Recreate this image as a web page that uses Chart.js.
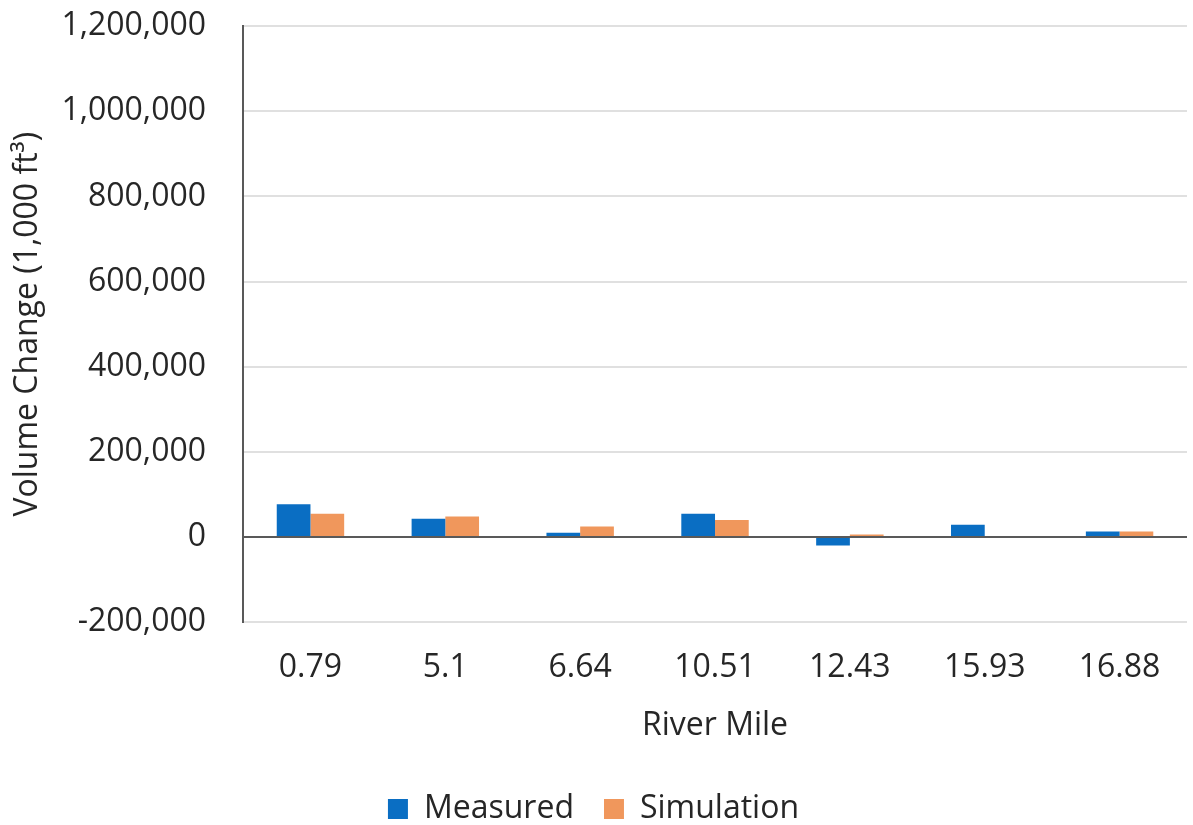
<!DOCTYPE html>
<html>
<head>
<meta charset="utf-8">
<script src="https://cdn.jsdelivr.net/npm/chart.js@4"></script>
<style>
  body { margin: 0; background: #fff; }
  #wrap { width: 1193px; height: 825px; }
</style>
</head>
<body>
<div id="wrap"><canvas id="volumeChart"></canvas></div>
<script>
const riverMiles = ['0.79', '5.1', '6.64', '10.51', '12.43', '15.93', '16.88'];
const measured = [77000, 43000, 10000, 55000, -20000, 29000, 13000];
const simulation = [55000, 48000, 25000, 40000, 6000, 0, 13000];

const textColor = '#262626';
const fontFamily = "'Open Sans', sans-serif";

const ctx = document.getElementById('volumeChart').getContext('2d');
new Chart(ctx, {
    type: 'bar',
    data: {
        labels: riverMiles,
        datasets: [
            { label: 'Measured', data: measured, backgroundColor: '#0A6EC3' },
            { label: 'Simulation', data: simulation, backgroundColor: '#F0975C' }
        ]
    },
    options: {
        responsive: true,
        maintainAspectRatio: false,
        animation: false,
        layout: { padding: { top: 1, right: 6, bottom: -10, left: 0 } },
        datasets: { bar: { categoryPercentage: 0.5, barPercentage: 1.0 } },
        plugins: {
            legend: {
                position: 'bottom',
                labels: {
                    color: textColor,
                    font: { family: fontFamily, size: 32 },
                    boxWidth: 20,
                    boxHeight: 20,
                    padding: 30
                }
            },
            tooltip: { enabled: false }
        },
        scales: {
            x: {
                grid: { display: false },
                border: { display: false },
                ticks: {
                    color: textColor,
                    font: { family: fontFamily, size: 32 },
                    padding: 18
                },
                title: {
                    display: true,
                    text: 'River Mile',
                    color: textColor,
                    font: { family: fontFamily, size: 32 },
                    padding: { top: 2, bottom: 18 }
                }
            },
            y: {
                min: -200000,
                max: 1200000,
                ticks: {
                    stepSize: 200000,
                    color: textColor,
                    font: { family: fontFamily, size: 32 },
                    padding: 7,
                    callback: v => v.toLocaleString('en-US')
                },
                grid: {
                    drawTicks: true,
                    tickLength: 30,
                    tickColor: 'rgba(0,0,0,0)',
                    lineWidth: 2,
                    color: c => c.tick && c.tick.value === 0 ? '#595959' : '#e0e0e0'
                },
                border: { display: true, color: '#595959', width: 2 },
                title: {
                    display: true,
                    text: 'Volume Change (1,000 ft\u00B3)',
                    color: textColor,
                    font: { family: fontFamily, size: 32 },
                    padding: { top: 9, bottom: 7 }
                }
            }
        }
    }
});
</script>
</body>
</html>
